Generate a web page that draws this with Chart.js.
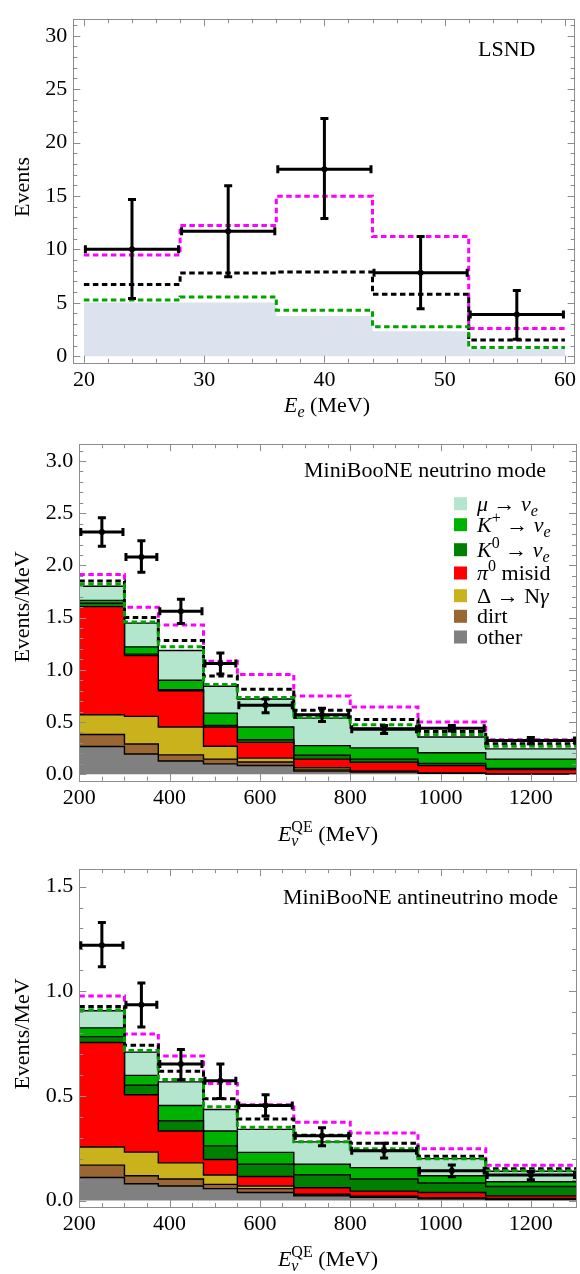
<!DOCTYPE html>
<html>
<head>
<meta charset="utf-8">
<script src="https://cdn.jsdelivr.net/npm/chart.js@4.4.0/dist/chart.umd.min.js"></script>
<style>
  html, body { margin: 0; padding: 0; background: #fff; }
  #wrap { position: relative; width: 580px; height: 1274px; }
  #wrap canvas { position: absolute; left: 0; }
</style>
</head>
<body>
<div id="wrap">
  <canvas id="lsnd" width="580" height="425" style="top:0"></canvas>
  <canvas id="nu" width="580" height="425" style="top:425px"></canvas>
  <canvas id="nubar" width="580" height="424" style="top:850px"></canvas>
</div>
<script>
// -----------------------
// Data
// -----------------------

// LSND, E_e bins (MeV)
const lsndEdges = [20, 28, 36, 44, 52, 60];
const lsndData = [10.0, 11.7, 17.5, 7.8, 3.9];
const lsndErrLo = [5.25, 7.3, 12.75, 4.3, 1.45];
const lsndErrHi = [14.8, 16.1, 22.4, 11.35, 6.3];
const lsndBkg = [5.03, 5.03, 3.76, 2.33, 0.7];
const lsndMagenta = [9.48, 12.24, 14.97, 11.2, 2.6];
const lsndBlack = [6.7, 7.79, 7.88, 5.79, 1.52];
const lsndGreen = [5.27, 5.55, 4.3, 2.76, 0.82];
const lsndXTicks = [20, 30, 40, 50, 60];
const lsndYTicks = [0, 5, 10, 15, 20, 25, 30];

// MiniBooNE, E_nu^QE bins (MeV)
const mbEdges = [200, 300, 375, 475, 550, 675, 800, 950, 1100, 1300];
const mbXTicks = [200, 400, 600, 800, 1000, 1200];
const bkgLabels = ['other', 'dirt', 'Δ → Nγ', 'π0 misid', 'K0 → νe', 'K+ → νe', 'μ → νe'];
const bkgColors = ['#808080', '#9a6633', '#c9b21c', '#ff0000', '#008000', '#00b200', '#b3e6cd'];

// neutrino mode (events/MeV)
const nuData = [2.32, 2.08, 1.56, 1.06, 0.66, 0.57, 0.43, 0.44, 0.323];
const nuErrLo = [2.17, 1.92, 1.43, 0.945, 0.575, 0.49, 0.375, 0.40, 0.277];
const nuErrHi = [2.47, 2.25, 1.69, 1.175, 0.735, 0.646, 0.48, 0.48, 0.367];
const nuOther = [0.265, 0.194, 0.126, 0.099, 0.083, 0.030, 0.020, 0.008, 0.003];
const nuDirt = [0.115, 0.095, 0.059, 0.046, 0.034, 0.012, 0.006, 0.002, 0.001];
const nuDelta = [0.190, 0.265, 0.267, 0.123, 0.037, 0.020, 0.004, 0.002, 0.001];
const nuPi0 = [1.035, 0.582, 0.348, 0.184, 0.151, 0.083, 0.084, 0.071, 0.040];
const nuK0 = [0.032, 0.014, 0.010, 0.016, 0.025, 0.037, 0.031, 0.021, 0.010];
const nuKplus = [0.028, 0.070, 0.090, 0.117, 0.122, 0.092, 0.107, 0.102, 0.090];
const nuMu = [0.135, 0.227, 0.285, 0.258, 0.268, 0.263, 0.191, 0.151, 0.098];
const nuGreen = [1.82, 1.459, 1.22, 0.86, 0.736, 0.545, 0.474, 0.381, 0.268];
const nuBlack = [1.85, 1.50, 1.28, 0.94, 0.815, 0.612, 0.523, 0.41, 0.293];
const nuMagenta = [1.914, 1.60, 1.43, 1.083, 0.954, 0.75, 0.643, 0.50, 0.33];
const nuYTicks = [0, 0.5, 1.0, 1.5, 2.0, 2.5, 3.0];

// antineutrino mode (events/MeV)
const nbData = [1.22, 0.935, 0.652, 0.572, 0.454, 0.309, 0.238, 0.142, 0.122];
const nbErrLo = [1.11, 0.822, 0.57, 0.48, 0.397, 0.254, 0.196, 0.106, 0.092];
const nbErrHi = [1.335, 1.046, 0.729, 0.66, 0.513, 0.355, 0.281, 0.177, 0.146];
const nbOther = [0.110, 0.080, 0.069, 0.057, 0.038, 0.022, 0.015, 0.008, 0.005];
const nbDirt = [0.059, 0.038, 0.034, 0.020, 0.019, 0.005, 0.003, 0.003, 0.002];
const nbDelta = [0.087, 0.113, 0.077, 0.045, 0.012, 0.003, 0.003, 0.002, 0.003];
const nbPi0 = [0.499, 0.274, 0.152, 0.074, 0.046, 0.031, 0.024, 0.025, 0.012];
const nbK0 = [0.028, 0.046, 0.049, 0.065, 0.058, 0.062, 0.058, 0.046, 0.045];
const nbKplus = [0.042, 0.047, 0.073, 0.071, 0.057, 0.050, 0.054, 0.034, 0.023];
const nbMu = [0.082, 0.111, 0.113, 0.103, 0.110, 0.107, 0.082, 0.082, 0.050];
const nbGreen = [0.912, 0.717, 0.578, 0.448, 0.35, 0.281, 0.247, 0.2, 0.142];
const nbBlack = [0.927, 0.742, 0.618, 0.486, 0.389, 0.312, 0.273, 0.211, 0.152];
const nbMagenta = [0.977, 0.796, 0.69, 0.559, 0.458, 0.374, 0.322, 0.247, 0.169];
const nbYTicks = [0, 0.5, 1.0, 1.5];

// -----------------------
// Helpers
// -----------------------
const SERIF = '"Liberation Serif", "DejaVu Serif", serif';
Chart.defaults.font.family = SERIF;
Chart.defaults.font.size = 22;
Chart.defaults.color = '#000';

// histogram values -> points for a stepped line (last value repeated at the right edge)
function steps(edges, vals) {
  const pts = vals.map((v, i) => ({ x: edges[i], y: v }));
  pts.push({ x: edges[edges.length - 1], y: vals[vals.length - 1] });
  return pts;
}
function centers(edges) {
  return edges.slice(0, -1).map((e, i) => (e + edges[i + 1]) / 2);
}
function dashed(label, color, edges, vals) {
  return {
    type: 'line', label, data: steps(edges, vals), stepped: true,
    borderColor: color, borderWidth: 3, borderDash: [5.5, 3.5],
    pointRadius: 0, fill: false, order: 1, stack: label
  };
}
function points(edges, vals) {
  const c = centers(edges);
  return {
    type: 'scatter', label: 'data', data: vals.map((v, i) => ({ x: c[i], y: v })),
    pointRadius: 3, pointBackgroundColor: '#000', pointBorderWidth: 0,
    order: 0, stack: 'data'
  };
}

// rich text: list of [text, style]
// style: '' plain, 'i' italic, 'is' italic sub, 'S' sup, 'S0' sup stacked over the previous sub
function drawRich(ctx, segs, x, y, size, align) {
  const parts = segs.map(([t, st]) => {
    const small = st === 'is' || st[0] === 'S';
    const fs = small ? Math.round(size * 0.72) : size;
    const font = (st[0] === 'i' ? 'italic ' : '') + fs + 'px ' + SERIF;
    ctx.font = font;
    const dy = st === 'is' ? size * 0.24 : st[0] === 'S' ? -size * 0.4 : 0;
    return { t, font, dy, w: ctx.measureText(t).width, stacked: st === 'S0' };
  });
  // advance per part, stacked scripts share the x of the previous part
  const adv = parts.map((p, i) => {
    const next = parts[i + 1];
    if (next && next.stacked) return 0;
    if (p.stacked) return Math.max(p.w, parts[i - 1].w);
    return p.w;
  });
  const total = adv.reduce((s, w) => s + w, 0);
  let cx = align === 'center' ? x - total / 2 : align === 'right' ? x - total : x;
  ctx.textAlign = 'left';
  ctx.textBaseline = 'alphabetic';
  parts.forEach((p, i) => { ctx.font = p.font; ctx.fillText(p.t, cx, y + p.dy); cx += adv[i]; });
}

// -----------------------
// Plugins
// -----------------------

// gray frame with inward major/minor ticks on all four sides
const frameTicks = {
  id: 'frameTicks',
  afterDatasetsDraw(chart, args, o) {
    const { ctx, chartArea: a, scales: { x, y } } = chart;
    ctx.save();
    ctx.strokeStyle = '#8c8c8c';
    ctx.lineWidth = 1;
    ctx.beginPath();
    const marks = (scale, major, minorStep, horiz) => {
      const lo = Math.ceil(scale.min / minorStep - 1e-9), hi = Math.floor(scale.max / minorStep + 1e-9);
      for (let k = lo; k <= hi; k++) {
        const v = k * minorStep;
        const len = major.some(m => Math.abs(m - v) < 1e-9) ? 7 : 4;
        const p = Math.round(scale.getPixelForValue(v)) + 0.5;
        if (horiz) {
          ctx.moveTo(p, a.bottom); ctx.lineTo(p, a.bottom - len);
          ctx.moveTo(p, a.top); ctx.lineTo(p, a.top + len);
        } else {
          ctx.moveTo(a.left, p); ctx.lineTo(a.left + len, p);
          ctx.moveTo(a.right, p); ctx.lineTo(a.right - len, p);
        }
      }
    };
    marks(x, o.xMajor, o.xMinor, true);
    marks(y, o.yMajor, o.yMinor, false);
    ctx.stroke();
    ctx.strokeRect(Math.round(a.left) + 0.5, Math.round(a.top) + 0.5,
      Math.round(a.right - a.left), Math.round(a.bottom - a.top));
    ctx.restore();
  }
};

// error crosses: horizontal bar spans the bin, vertical bar the error
const errorBars = {
  id: 'errorBars',
  afterDatasetsDraw(chart, args, o) {
    const { ctx, scales: { x, y } } = chart;
    ctx.save();
    ctx.strokeStyle = '#000';
    ctx.lineWidth = 3;
    ctx.beginPath();
    o.values.forEach((v, i) => {
      const x0 = x.getPixelForValue(o.edges[i]), x1 = x.getPixelForValue(o.edges[i + 1]);
      const xc = (x0 + x1) / 2, yc = y.getPixelForValue(v);
      const ylo = y.getPixelForValue(o.lo[i]), yhi = y.getPixelForValue(o.hi[i]);
      ctx.moveTo(x0, yc); ctx.lineTo(x1, yc);
      ctx.moveTo(xc, ylo); ctx.lineTo(xc, yhi);
      ctx.moveTo(x0 + 1.5, yc - 4); ctx.lineTo(x0 + 1.5, yc + 4);
      ctx.moveTo(x1 - 1.5, yc - 4); ctx.lineTo(x1 - 1.5, yc + 4);
      ctx.moveTo(xc - 4, ylo - 1.5); ctx.lineTo(xc + 4, ylo - 1.5);
      ctx.moveTo(xc - 4, yhi + 1.5); ctx.lineTo(xc + 4, yhi + 1.5);
    });
    ctx.stroke();
    ctx.restore();
  }
};

// axis titles, panel tag and the background legend
const deco = {
  id: 'deco',
  afterDraw(chart, args, o) {
    const { ctx } = chart;
    ctx.save();
    ctx.fillStyle = '#000';
    drawRich(ctx, o.xTitle, o.xTitleAt[0], o.xTitleAt[1], 22, 'center');
    ctx.translate(o.yTitleAt[0], o.yTitleAt[1]);
    ctx.rotate(-Math.PI / 2);
    drawRich(ctx, [[o.yTitle, '']], 0, 0, 22, 'center');
    ctx.setTransform(1, 0, 0, 1, 0, 0);
    drawRich(ctx, [[o.tag, '']], o.tagAt[0], o.tagAt[1], 22, 'left');
    if (o.legend) {
      const rich = [
        [['μ', 'i'], [' → ', ''], ['ν', 'i'], ['e', 'is']],
        [['K', 'i'], ['+', 'S'], [' → ', ''], ['ν', 'i'], ['e', 'is']],
        [['K', 'i'], ['0', 'S'], [' → ', ''], ['ν', 'i'], ['e', 'is']],
        [['π', 'i'], ['0', 'S'], [' misid', '']],
        [['Δ → N', ''], ['γ', 'i']],
        [['dirt', '']],
        [['other', '']]
      ];
      const rowBase = [85.7, 106.7, 131.7, 155, 177.7, 198.3, 219];
      const ds = chart.data.datasets;
      rich.forEach((segs, r) => {
        const layer = ds[ds.length - 5 - r];
        ctx.fillStyle = layer.backgroundColor;
        ctx.fillRect(454, rowBase[r] - 13.5, 13, 13);
        ctx.fillStyle = '#000';
        drawRich(ctx, segs, 477, rowBase[r], 22, 'left');
      });
    }
    ctx.restore();
  }
};

// -----------------------
// Chart builder
// -----------------------
function axes(cfg) {
  return {
    x: {
      type: 'linear', min: cfg.xMin, max: cfg.xMax,
      grid: { display: false, drawTicks: false }, border: { display: false },
      afterBuildTicks: s => { s.ticks = cfg.xTicks.map(v => ({ value: v })); },
      ticks: { padding: 4, maxRotation: 0, autoSkip: false, callback: v => String(v) },
      afterFit: s => { s.height = cfg.xHeight; }
    },
    y: {
      type: 'linear', min: cfg.yMin, max: cfg.yMax, stacked: !!cfg.stacked,
      grid: { display: false, drawTicks: false }, border: { display: false },
      afterBuildTicks: s => { s.ticks = cfg.yTicks.map(v => ({ value: v })); },
      ticks: { padding: 6, autoSkip: false, callback: cfg.yFormat },
      afterFit: s => { s.width = cfg.yWidth; }
    }
  };
}

function makeChart(id, datasets, cfg, err, decoOpts) {
  return new Chart(document.getElementById(id), {
    type: 'line',
    data: { datasets },
    options: {
      responsive: false,
      animation: false,
      events: [],
      layout: { padding: { top: cfg.padTop, right: cfg.padRight, left: 0, bottom: 0 } },
      scales: axes(cfg),
      plugins: {
        legend: { display: false },
        tooltip: { enabled: false },
        frameTicks: { xMajor: cfg.xTicks, xMinor: cfg.xMinor, yMajor: cfg.yTicks, yMinor: cfg.yMinor },
        errorBars: err,
        deco: decoOpts
      }
    },
    plugins: [frameTicks, errorBars, deco]
  });
}

// LSND panel
makeChart('lsnd', [
  {
    type: 'line', label: 'background', data: steps(lsndEdges, lsndBkg), stepped: true,
    borderColor: 'transparent', borderWidth: 0, backgroundColor: '#dce2ee',
    pointRadius: 0, fill: 'origin', order: 2
  },
  dashed('green', '#00a300', lsndEdges, lsndGreen),
  dashed('black', '#000000', lsndEdges, lsndBlack),
  dashed('magenta', '#ff00ff', lsndEdges, lsndMagenta),
  points(lsndEdges, lsndData)
], {
  xMin: 19.12, xMax: 60.81, xTicks: lsndXTicks, xMinor: 2, xHeight: 62.3,
  yMin: -0.61, yMax: 31.55, yTicks: lsndYTicks, yMinor: 1, yWidth: 73.3,
  yFormat: v => String(v), padTop: 9, padRight: 2
}, { edges: lsndEdges, values: lsndData, lo: lsndErrLo, hi: lsndErrHi }, {
  xTitle: [['E', 'i'], ['e', 'is'], [' (MeV)', '']], xTitleAt: [327, 412],
  yTitle: 'Events', yTitleAt: [28.5, 187],
  tag: 'LSND', tagAt: [478, 56], legend: false
});

// MiniBooNE panels: stacked background layers, dashed predictions, data
function mbPanel(id, comps, green, black, magenta, data, lo, hi, cfg, decoOpts) {
  const layers = comps.map((vals, i) => ({
    type: 'line', label: bkgLabels[i], data: steps(mbEdges, vals), stepped: true,
    borderColor: '#000', borderWidth: 1.4, backgroundColor: bkgColors[i],
    pointRadius: 0, fill: i === 0 ? 'origin' : '-1', order: 2, stack: 'bkg'
  }));
  makeChart(id, [
    ...layers,
    dashed('green', '#00a300', mbEdges, green),
    dashed('black', '#000000', mbEdges, black),
    dashed('magenta', '#ff00ff', mbEdges, magenta),
    points(mbEdges, data)
  ], Object.assign({
    xMin: 200, xMax: 1300, xTicks: mbXTicks, xMinor: 50, yMinor: 0.1, yWidth: 79.3,
    yFormat: v => v.toFixed(1), padRight: 1.5, stacked: true
  }, cfg), { edges: mbEdges, values: data, lo, hi }, decoOpts);
}

const enuTitle = [['E', 'i'], ['ν', 'is'], ['QE', 'S0'], [' (MeV)', '']];

mbPanel('nu', [nuOther, nuDirt, nuDelta, nuPi0, nuK0, nuKplus, nuMu],
  nuGreen, nuBlack, nuMagenta, nuData, nuErrLo, nuErrHi,
  { yMin: -0.062, yMax: 3.161, yTicks: nuYTicks, xHeight: 69.3, padTop: 6.7 },
  {
    xTitle: enuTitle, xTitleAt: [328, 415.5],
    yTitle: 'Events/MeV', yTitleAt: [28.5, 182],
    tag: 'MiniBooNE neutrino mode', tagAt: [304, 51.7], legend: true
  });

mbPanel('nubar', [nbOther, nbDirt, nbDelta, nbPi0, nbK0, nbKplus, nbMu],
  nbGreen, nbBlack, nbMagenta, nbData, nbErrLo, nbErrHi,
  { yMin: -0.031, yMax: 1.583, yTicks: nbYTicks, xHeight: 67, padTop: 9.3 },
  {
    xTitle: enuTitle, xTitleAt: [328, 416],
    yTitle: 'Events/MeV', yTitleAt: [28.5, 184],
    tag: 'MiniBooNE antineutrino mode', tagAt: [283, 54], legend: false
  });
</script>
</body>
</html>
